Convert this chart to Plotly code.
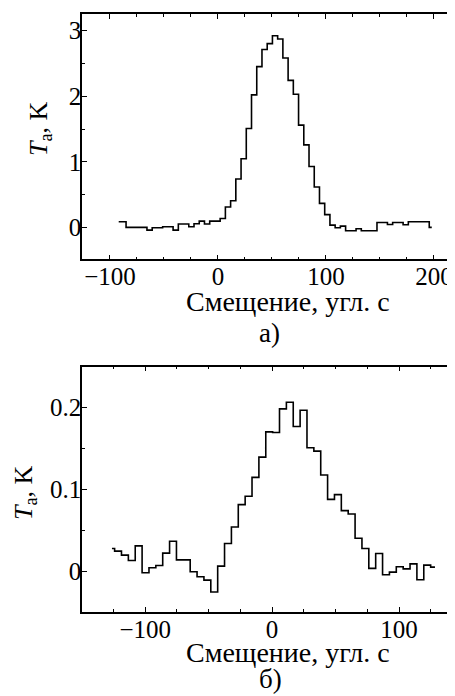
import plotly.graph_objects as go

# ---------- data (a): step profile ----------
# step edges (arcsec): irregular first/last, uniform grid in between
edges_a = [-91.9] + [round(-85.1 + 4.841 * j, 2) for j in range(59)] + [198.0]
ta_a = [0.09, 0.005, 0.005, 0.005, 0.005, -0.036, 0.0, 0.0, 0.015, 0.015,
        -0.036, 0.056, 0.056, 0.015, 0.061, 0.10, 0.056, 0.10, 0.10, 0.14,
        0.315, 0.41, 0.74, 1.05, 1.51, 2.02, 2.45, 2.71, 2.80, 2.92,
        2.87, 2.58, 2.24, 2.03, 1.56, 1.26, 0.93, 0.62, 0.37, 0.20,
        0.04, 0.0, 0.025, -0.046, -0.046, -0.015, -0.046, -0.046, -0.046, 0.08,
        0.08, 0.05, 0.08, 0.08, 0.046, 0.09, 0.09, 0.09, 0.09, 0.005]

# ---------- data (b) ----------
edges_b = [-126.2] + [round(-124.1 + 5.413 * j, 2) for j in range(47)] + [128.3]
ta_b = [0.0276, 0.0244, 0.0195, 0.013, 0.0309, -0.002, 0.0041, 0.0069, 0.022, 0.0366,
        0.0138, 0.0138, -0.0008, -0.0069, -0.011, -0.0256, 0.0061, 0.0337, 0.054, 0.0813,
        0.0915, 0.1146, 0.1394, 0.1703, 0.1695, 0.1984, 0.2065, 0.1768, 0.1967, 0.1508,
        0.1467, 0.1175, 0.0878, 0.0935, 0.074, 0.0699, 0.0402, 0.0276, 0.0033, 0.0215,
        -0.0045, -0.0012, 0.0053, 0.0028, 0.0089, -0.0106, 0.0073, 0.0049]

xticks_a = [-100, 0, 100, 200]
xlabels_a = ["\u2212100", "0", "100", "200"]
yticks_a = [0, 1, 2, 3]
ylabels_a = ["0", "1", "2", "3"]
xticks_b = [-100, 0, 100]
xlabels_b = ["\u2212100", "0", "100"]
yticks_b = [0, 0.1, 0.2]
ylabels_b = ["0", "0.1", "0.2"]

x_title = "Смещение, угл. с"
y_title = "<i>T</i><sub>а</sub>, K"
label_a = "а)"
label_b = "б)"

FONT = "Liberation Serif, Times New Roman, serif"
# page body has an 8px margin: figure is placed at (8, 8) on screen
OFF = 8
W, H = 447, 688
ML, MR, MT, MB = 82 - OFF, 1, 14 - OFF, 84
PH = H - MT - MB
PW = W - ML - MR


def py(Y):  # screen pixel row -> paper y
    return (H - MB - (Y - OFF)) / PH


def px(X):  # screen pixel column -> paper x
    return ((X - OFF) - ML) / PW


fig = go.Figure()
fig.add_trace(go.Scatter(x=edges_a, y=ta_a + [ta_a[-1]], mode="lines",
                         line=dict(shape="hv", color="black", width=1.6),
                         xaxis="x", yaxis="y", showlegend=False))
fig.add_trace(go.Scatter(x=edges_b, y=ta_b + [ta_b[-1]], mode="lines",
                         line=dict(shape="hv", color="black", width=1.6),
                         xaxis="x2", yaxis="y2", showlegend=False))

TFS = 25
axcommon = dict(showline=True, linecolor="black", linewidth=1.5, mirror="ticks",
                ticks="inside", ticklen=5, tickwidth=1.2, tickcolor="black",
                showgrid=False, zeroline=False, automargin=False,
                tickfont=dict(family=FONT, size=TFS, color="black"))
xcommon = dict(axcommon, ticklabelstandoff=-6)
ycommon = dict(axcommon, ticklabelstandoff=-6)

fig.update_layout(
    width=W, height=H,
    margin=dict(l=ML, r=MR, t=MT, b=MB, autoexpand=False),
    paper_bgcolor="white", plot_bgcolor="white",
    font=dict(family=FONT, size=TFS, color="black"),
    xaxis=dict(domain=[0, 1], anchor="y", range=[-125.9, 218.6],
               tickvals=xticks_a, ticktext=xlabels_a,
               minor=dict(dtick=25, tick0=0, ticks="inside", ticklen=3, tickcolor="black", tickwidth=1),
               **xcommon),
    yaxis=dict(domain=[py(259.3), 1], anchor="x", range=[-0.48, 3.25],
               tickvals=yticks_a, ticktext=ylabels_a,
               minor=dict(dtick=0.5, tick0=0, ticks="inside", ticklen=3, tickcolor="black", tickwidth=1),
               **ycommon),
    xaxis2=dict(domain=[0, 1], anchor="y2", range=[-149.8, 143.3],
                tickvals=xticks_b, ticktext=xlabels_b,
                minor=dict(dtick=25, tick0=0, ticks="inside", ticklen=3, tickcolor="black", tickwidth=1),
                **xcommon),
    yaxis2=dict(domain=[0, py(366.7)], anchor="x2", range=[-0.05, 0.25],
                tickvals=yticks_b, ticktext=ylabels_b,
                minor=dict(dtick=0.05, tick0=0, ticks="inside", ticklen=3, tickcolor="black", tickwidth=1),
                **ycommon),
)

title_font = dict(family=FONT, size=28, color="black")
label_font = dict(family=FONT, size=27, color="black")
ytitle_font = dict(family=FONT, size=26, color="black")
anns = [
    dict(text=x_title, x=px(288), y=py(301), font=title_font),
    dict(text=label_a, x=px(269), y=py(333), font=label_font),
    dict(text=x_title, x=px(288), y=py(652), font=title_font),
    dict(text=label_b, x=px(270), y=py(679), font=label_font),
    dict(text=y_title, x=px(40), y=py(129), textangle=-90, font=ytitle_font),
    dict(text=y_title, x=px(25), y=py(493), textangle=-90, font=ytitle_font),
]
for a in anns:
    fig.add_annotation(xref="paper", yref="paper", showarrow=False,
                       xanchor="center", yanchor="middle", **a)

fig.write_html("out.html")
